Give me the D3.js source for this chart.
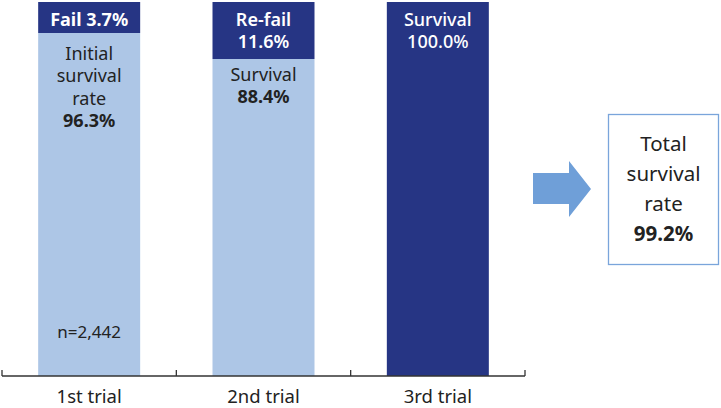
<!DOCTYPE html>
<html>
<head>
  <script src="https://d3js.org/d3.v7.min.js"></script>
  <style>
    body { margin: 0; background: #fff; }
    svg text { font-family: "Noto Sans", sans-serif; text-anchor: middle; }
    .axis path, .axis line { stroke: #333; stroke-width: 1.3; }
    .axis text { font-size: 18.5px; fill: #222; }
  </style>
</head>
<body>
  <svg class="chart" width="721" height="408"></svg>
  <script>
    var trials = ['1st trial', '2nd trial', '3rd trial'];
    var failPct = [3.7, 11.6, 0];
    var survivalPct = [96.3, 88.4, 100.0];
    var topLabels = [['Fail 3.7%'], ['Re-fail', '11.6%'], ['Survival', '100.0%']];
    var bodyLabels = [['Initial', 'survival', 'rate', '96.3%'], ['Survival', '88.4%'], []];
    var sampleLabel = 'n=2,442';
    var totalLabel = ['Total', 'survival', 'rate', '99.2%'];

    var light = '#adc6e6';
    var dark = '#263584';
    var barWidth = 102;
    var lineH = 22.3;

    var svg = d3.select('.chart');

    var x = d3.scaleBand().domain(trials).range([2, 525]).padding(0);
    var y = d3.scaleLinear().domain([0, 100]).range([376, 2]);

    // header band must at least fit its label lines
    function headerBottom(i) {
      if (failPct[i] === 0) return y(100);
      var h = Math.max(y(0) - y(failPct[i]), 5 + topLabels[i].length * 26);
      return y(100) + h;
    }

    var bar = svg.selectAll('g.bar')
      .data(trials)
      .enter()
      .append('g')
      .attr('class', 'bar')
      .attr('transform', function (d) {
        return 'translate(' + (x(d) + (x.bandwidth() - barWidth) / 2) + ',0)';
      });

    // survival part
    bar.append('rect')
      .attr('y', function (d, i) { return failPct[i] === 0 ? y(100) : headerBottom(i); })
      .attr('width', barWidth)
      .attr('height', function (d, i) {
        return failPct[i] === 0 ? y(0) - y(100) : y(0) - headerBottom(i);
      })
      .attr('fill', function (d, i) { return failPct[i] === 0 ? dark : light; });

    // fail part
    bar.filter(function (d, i) { return failPct[i] > 0; })
      .append('rect')
      .attr('y', y(100))
      .attr('width', barWidth)
      .attr('height', function (d) {
        var i = trials.indexOf(d);
        return headerBottom(i) - y(100);
      })
      .attr('fill', dark);

    bar.each(function (d, i) {
      var g = d3.select(this);
      topLabels[i].forEach(function (t, k) {
        g.append('text')
          .attr('x', barWidth / 2)
          .attr('y', y(100) + 24 + k * lineH)
          .attr('fill', '#fff')
          .attr('font-size', 18)
          .attr('font-weight', i === 0 ? 'bold' : (i === 1 ? 600 : 500))
          .text(t);
      });
      var top = headerBottom(i);
      var startY = i === 0 ? top + 27 : top + 22;
      bodyLabels[i].forEach(function (t, k) {
        var last = k === bodyLabels[i].length - 1;
        g.append('text')
          .attr('x', barWidth / 2)
          .attr('y', startY + k * lineH)
          .attr('fill', '#222')
          .attr('font-size', 18)
          .attr('font-weight', last ? 'bold' : 'normal')
          .text(t);
      });
    });

    svg.append('text')
      .attr('x', x(trials[0]) + x.bandwidth() / 2)
      .attr('y', 338)
      .attr('fill', '#222')
      .attr('font-size', 17)
      .text(sampleLabel);

    var axis = svg.append('g')
      .attr('class', 'axis')
      .attr('transform', 'translate(0,' + y(0) + ')');
    axis.append('line')
      .attr('x1', x.range()[0]).attr('x2', x.range()[1])
      .attr('y1', 0).attr('y2', 0);
    axis.selectAll('line.tick')
      .data(trials.map(function (d) { return x(d); }).concat([x.range()[1]]))
      .enter()
      .append('line')
      .attr('class', 'tick')
      .attr('x1', function (d) { return d; }).attr('x2', function (d) { return d; })
      .attr('y1', -6).attr('y2', 0);
    axis.selectAll('text')
      .data(trials)
      .enter()
      .append('text')
      .attr('x', function (d) { return x(d) + x.bandwidth() / 2; })
      .attr('y', 27)
      .text(function (d) { return d; });

    // arrow
    svg.append('path')
      .attr('d', 'M533,173 L569,173 L569,161 L591,189 L569,217 L569,204 L533,204 Z')
      .attr('fill', '#6f9fd8');

    // total box
    svg.append('rect')
      .attr('x', 608.5).attr('y', 114.5)
      .attr('width', 110).attr('height', 150)
      .attr('fill', 'none')
      .attr('stroke', '#7aa5db')
      .attr('stroke-width', 1.3);
    totalLabel.forEach(function (t, k) {
      svg.append('text')
        .attr('x', 663.5)
        .attr('y', 151 + k * 30)
        .attr('fill', '#222')
        .attr('font-size', 20.5)
        .attr('font-weight', k === totalLabel.length - 1 ? 'bold' : 'normal')
        .text(t);
    });
  </script>
</body>
</html>
